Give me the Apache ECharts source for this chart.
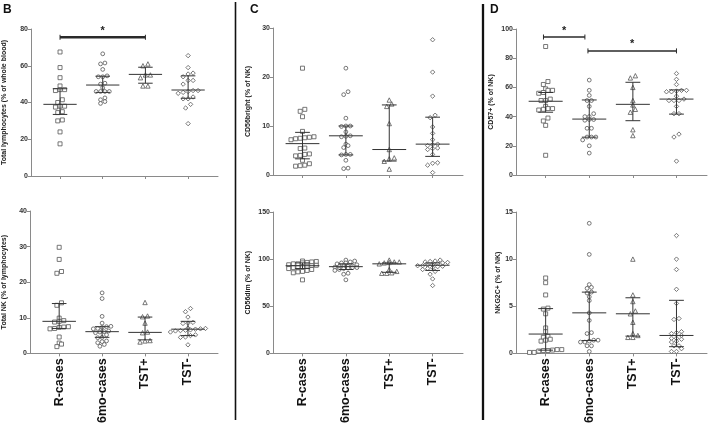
<!DOCTYPE html>
<html><head><meta charset="utf-8">
<script src="https://cdn.jsdelivr.net/npm/echarts@6/dist/echarts.min.js"></script>
<style>html,body{margin:0;padding:0;background:#fff}#c{width:708px;height:426px}</style>
</head><body><div id="c"></div>
<script>
const categories = ['R-cases', '6mo-cases', 'TST+', 'TST-'];

// Panel B top: Total lymphocytes (% of whole blood)
const lymphR   = [67.5, 59, 53.5, 49, 47, 47, 46.5, 41.5, 40, 38, 38, 37.5, 35, 34.5, 30.5, 30, 24, 17.5];
const lymph6mo = [66.5, 61.5, 61, 58, 54.5, 54, 54, 50.5, 50, 48, 46, 46, 46, 46, 42.5, 41.5, 40.5, 39.5];
const lymphTp  = [61, 60, 55, 55, 53.5, 49, 49];
const lymphTn  = [65.5, 59, 56, 55.5, 54, 52, 52, 50, 46.5, 46.5, 46, 45.5, 45, 43, 42, 42, 39, 37, 28.5];
const lymphMed = [[39, 33.5, 47.5], [49.5, 45.5, 54.3], [55.3, 50.5, 59.2], [46.8, 42.3, 54.5]];

// Panel B bottom: Total NK (% of lymphocytes)
const nkR   = [29.8, 26.4, 23, 22.5, 14.2, 13.5, 9.9, 9.2, 9, 8.8, 7.5, 7.4, 7.3, 7, 6.9, 4.6, 2.9, 2.6, 1.9];
const nk6mo = [17, 15.4, 10.4, 8.5, 7.6, 7.5, 7.3, 7, 6.9, 6.3, 6.1, 6, 5.8, 5.2, 4.5, 4.4, 3.5, 3.3, 3, 2.5, 2];
const nkTp  = [14.3, 10.5, 10.3, 8.5, 6, 5.8, 3.6, 3.5, 3.2];
const nkTn  = [12.6, 11.7, 10.2, 8.7, 8.5, 8.4, 7.1, 7, 6.9, 6.8, 6.6, 6.5, 6.4, 6.3, 6, 5.2, 5, 4.6, 4.5, 2.4];
const nkMed = [[9, 7, 14], [6.1, 4.5, 7.5], [5.9, 3.8, 10.2], [6.8, 5, 9]];

// Panel C top: CD56bright (% of NK)
const brR   = [21.8, 13.4, 13, 11.9, 8.9, 7.8, 7.7, 7.6, 7.5, 7.4, 7.2, 5.5, 5.4, 4.3, 4.2, 4, 3.9, 3, 2.3, 2, 1.9, 1.8];
const br6mo = [21.8, 17, 16.4, 11.6, 10, 10, 9.9, 8.8, 8, 7.9, 7.8, 6.3, 6, 5.6, 4.2, 4.2, 4.1, 3, 1.4, 1.3];
const brTp  = [15.3, 14.5, 14, 10.5, 5.2, 3.5, 3.3, 2.8, 1.2];
const brTn  = [27.6, 21, 16.1, 12.2, 11.7, 9.8, 8.5, 7.2, 6.3, 6.2, 6, 5.5, 5.4, 5.2, 4.2, 2.5, 2.4, 2, 0.5];
const brMed = [[6.4, 3.3, 8.7], [8, 4.1, 10], [5.2, 2.85, 14.3], [6.3, 3.8, 11.8]];

// Panel C bottom: CD56dim (% of NK)
const dimR   = [98, 97.5, 97, 96.5, 96, 95, 95, 94, 93.5, 93, 92.5, 92, 91, 91, 90, 89, 88, 87, 86.5, 85.5, 78];
const dim6mo = [99, 98, 97, 96, 96, 95, 94, 93, 92.5, 92, 92, 91.5, 91, 91, 90.5, 90, 89, 88, 85, 84, 78];
const dimTp  = [99, 97, 97, 96.5, 96, 95, 89, 87, 85.5, 85, 85];
const dimTn  = [99, 98, 97.5, 97, 96.5, 96, 95, 94, 93.5, 93, 93, 92.5, 92, 91, 90, 89, 87, 84, 79, 72];
const dimMed = [[93, 90, 96], [92, 89, 95], [95, 86, 96], [93.5, 88, 96]];

// Panel D top: CD57+ (% of NK)
const c57R   = [88, 64, 62, 59, 58, 58, 56.5, 56, 52, 51, 51, 47, 45.5, 45.5, 45, 44.5, 39, 37, 34, 13.5];
const c576mo = [65, 58, 54.5, 51, 51, 47, 42, 40, 40, 38, 38, 37.5, 32, 32, 26, 26, 26, 24, 20, 15];
const c57Tp  = [68, 66.5, 60, 51, 48, 45, 43, 31, 27];
const c57Tn  = [69.5, 65.5, 62, 58, 58, 57.5, 57, 57, 54, 52, 51, 51, 51, 47, 42, 42, 28, 26, 9.5];
const c57Med = [[50.5, 43, 56.5], [38.3, 25.9, 51.4], [48.4, 37.2, 63.5], [52, 41.7, 58.3]];

// Panel D bottom: NKG2C+ (% of NK)
const g2R   = [8, 7.5, 6.2, 4.8, 4.7, 4.2, 2.7, 2.3, 1.8, 1.7, 1.5, 1.4, 1.3, 0.4, 0.4, 0.35, 0.3, 0.3, 0.25, 0.1, 0.1];
const g26mo = [13.8, 10.5, 7.3, 7, 6.9, 6.5, 6.4, 6, 5.6, 4.3, 3.5, 2.2, 2.1, 1.4, 1.4, 1.3, 1.2, 1.2, 0.8, 0.8, 0.2];
const g2Tp  = [10, 6.2, 5.5, 4.5, 4.2, 3.3, 2.1, 1.9, 1.7, 1.7];
const g2Tn  = [12.5, 10, 8.9, 6.8, 5.3, 3.7, 3.6, 2.3, 2.2, 2.1, 1.9, 1.6, 1.6, 1.5, 1.3, 1.2, 0.8, 0.8, 0.5, 0.2, 0.2];
const g2Med = [[2.05, 0.34, 4.75], [4.3, 1.36, 6.5], [4.2, 1.83, 5.9], [1.9, 0.71, 5.63]];

// significance bars: [from, to, level]
const sigB = [[0, 2, 75.5]];
const sigD = [[-0.05, 0.9, 94.5], [0.97, 3, 85]];

const yTicksMax = [80, 40, 30, 150, 100, 15];
const yTicksStep = [20, 10, 10, 50, 20, 5];

const panels = [
  {name: 'Total lymphocytes (% of whole blood)', groups: [lymphR, lymph6mo, lymphTp, lymphTn], med: lymphMed, sig: sigB, sigW: 2.5, grid: {left: 30, top: 29, width: 188, height: 147}, gap: 23, labels: false},
  {name: 'Total NK (% of lymphocytes)', groups: [nkR, nk6mo, nkTp, nkTn], med: nkMed, sig: [], grid: {left: 30, top: 211, width: 188, height: 148}, gap: 22, labels: true},
  {name: 'CD56bright (% of NK)', groups: [brR, br6mo, brTp, brTn], med: brMed, sig: [], grid: {left: 273, top: 28, width: 190, height: 147}, gap: 21, labels: false},
  {name: 'CD56dim (% of NK)', groups: [dimR, dim6mo, dimTp, dimTn], med: dimMed, sig: [], grid: {left: 273, top: 212, width: 190, height: 147}, gap: 21, labels: true},
  {name: 'CD57+ (% of NK)', groups: [c57R, c576mo, c57Tp, c57Tn], med: c57Med, sig: sigD, sigW: 1.5, grid: {left: 516, top: 29, width: 191, height: 146}, gap: 21, labels: false},
  {name: 'NKG2C+ (% of NK)', groups: [g2R, g26mo, g2Tp, g2Tn], med: g2Med, sig: [], grid: {left: 516, top: 212, width: 191, height: 147}, gap: 14, labels: true}
];

const XMIN = -0.68, XMAX = 3.7;
const symbols = ['rect', 'circle', 'triangle', 'diamond'];
const symSize = [4, 3.8, 4.4, 4.4];
const FONT = 'Liberation Sans';

// Prism-like row swarm: points closer than a marker size go side by side
function swarm(vals, unitPx, catPx, d) {
  const idx = vals.map((v, i) => i).sort((a, b) => vals[a] - vals[b]);
  const off = new Array(vals.length).fill(0);
  let row = [], start = null;
  const flush = () => row.forEach((id, k) => { off[id] = (k - (row.length - 1) / 2) * d / catPx; });
  idx.forEach(id => {
    const py = vals[id] * unitPx;
    if (start === null || py - start >= d * 0.75) { if (row.length) flush(); row = [id]; start = py; }
    else row.push(id);
  });
  flush();
  return off;
}

const grid = [], xAxis = [], yAxis = [], series = [];
panels.forEach((p, pi) => {
  grid.push(Object.assign({containLabel: false}, p.grid));
  xAxis.push({
    type: 'value', gridIndex: pi, min: XMIN, max: XMAX,
    axisLine: {onZero: false, lineStyle: {color: '#8a8a8a', width: 1}},
    axisTick: {show: true, customValues: [0, 1, 2, 3], length: 3, lineStyle: {color: '#8a8a8a'}},
    axisLabel: p.labels ? {show: true, customValues: [0, 1, 2, 3], formatter: v => categories[Math.round(v)], rotate: 90, fontSize: 12.5, fontWeight: 'bold', fontFamily: FONT, color: '#111', margin: 5} : {show: false},
    splitLine: {show: false}
  });
  yAxis.push({
    type: 'value', gridIndex: pi, min: 0, max: yTicksMax[pi], interval: yTicksStep[pi],
    name: p.name, nameLocation: 'middle', nameGap: p.gap,
    nameTextStyle: {fontSize: 7, fontWeight: 'bold', fontFamily: FONT, color: '#222'},
    axisLine: {show: true, onZero: false, lineStyle: {color: '#8a8a8a', width: 1}},
    axisTick: {show: true, length: 3, lineStyle: {color: '#8a8a8a'}},
    axisLabel: {fontSize: 7, fontWeight: 'bold', fontFamily: FONT, color: '#333', margin: 3},
    splitLine: {show: false}
  });
  const unitPx = p.grid.height / yTicksMax[pi];
  const catPx = p.grid.width / (XMAX - XMIN);
  p.groups.forEach((vals, gi) => {
    const off = swarm(vals, unitPx, catPx, symSize[gi] + 0.6);
    series.push({
      type: 'scatter', xAxisIndex: pi, yAxisIndex: pi,
      symbol: symbols[gi], symbolSize: symSize[gi],
      itemStyle: {color: '#ffffff', borderColor: '#555555', borderWidth: 0.8, opacity: 1},
      data: vals.map((v, i) => [gi + off[i], v]), z: 2, silent: true
    });
  });
  series.push({
    type: 'custom', xAxisIndex: pi, yAxisIndex: pi, z: 3, silent: true,
    data: p.med.map((m, gi) => [gi, m[0], m[1], m[2]]),
    renderItem: (params, api) => {
      const x = api.value(0);
      const cm = api.coord([x, api.value(1)]);
      const c1 = api.coord([x, api.value(2)]);
      const c3 = api.coord([x, api.value(3)]);
      const u = api.size([1, 0])[0];
      const st = {stroke: '#333', lineWidth: 1};
      const hm = 0.39 * u, hc = 0.17 * u;
      return {type: 'group', children: [
        {type: 'line', shape: {x1: cm[0] - hm, y1: cm[1], x2: cm[0] + hm, y2: cm[1]}, style: st},
        {type: 'line', shape: {x1: c1[0], y1: c1[1], x2: c3[0], y2: c3[1]}, style: st},
        {type: 'line', shape: {x1: c1[0] - hc, y1: c1[1], x2: c1[0] + hc, y2: c1[1]}, style: st},
        {type: 'line', shape: {x1: c3[0] - hc, y1: c3[1], x2: c3[0] + hc, y2: c3[1]}, style: st}
      ]};
    }
  });
  if (p.sig.length) {
    series.push({
      type: 'custom', xAxisIndex: pi, yAxisIndex: pi, z: 4, silent: true,
      data: p.sig,
      renderItem: (params, api) => {
        const a = api.coord([api.value(0), api.value(2)]);
        const b = api.coord([api.value(1), api.value(2)]);
        const w = p.sigW;
        return {type: 'group', children: [
          {type: 'line', shape: {x1: a[0], y1: a[1], x2: b[0], y2: b[1]}, style: {stroke: '#2a2a2a', lineWidth: w}},
          {type: 'line', shape: {x1: a[0], y1: a[1] - 2.5, x2: a[0], y2: a[1] + 2.5}, style: {stroke: '#2a2a2a', lineWidth: 1}},
          {type: 'line', shape: {x1: b[0], y1: b[1] - 2.5, x2: b[0], y2: b[1] + 2.5}, style: {stroke: '#2a2a2a', lineWidth: 1}},
          {type: 'text', x: (a[0] + b[0]) / 2, y: a[1] - 1, style: {text: '*', fontSize: 11, fontWeight: 'bold', fontFamily: FONT, fill: '#222', align: 'center', verticalAlign: 'bottom'}}
        ]};
      }
    });
  }
});

const chart = echarts.init(document.getElementById('c'), null, {renderer: 'canvas'});
chart.setOption({
  animation: false,
  backgroundColor: '#fff',
  grid, xAxis, yAxis, series,
  graphic: [
    {type: 'line', shape: {x1: 235.5, y1: 2, x2: 235.5, y2: 420}, style: {stroke: '#111', lineWidth: 1.6}},
    {type: 'line', shape: {x1: 483, y1: 4, x2: 483, y2: 420}, style: {stroke: '#111', lineWidth: 2.3}},
    {type: 'text', left: 3, top: 4, style: {text: 'B', fontSize: 12, fontWeight: 'bold', fontFamily: FONT, fill: '#111'}},
    {type: 'text', left: 250, top: 4, style: {text: 'C', fontSize: 12, fontWeight: 'bold', fontFamily: FONT, fill: '#111'}},
    {type: 'text', left: 490, top: 4, style: {text: 'D', fontSize: 12, fontWeight: 'bold', fontFamily: FONT, fill: '#111'}}
  ]
});
</script></body></html>
